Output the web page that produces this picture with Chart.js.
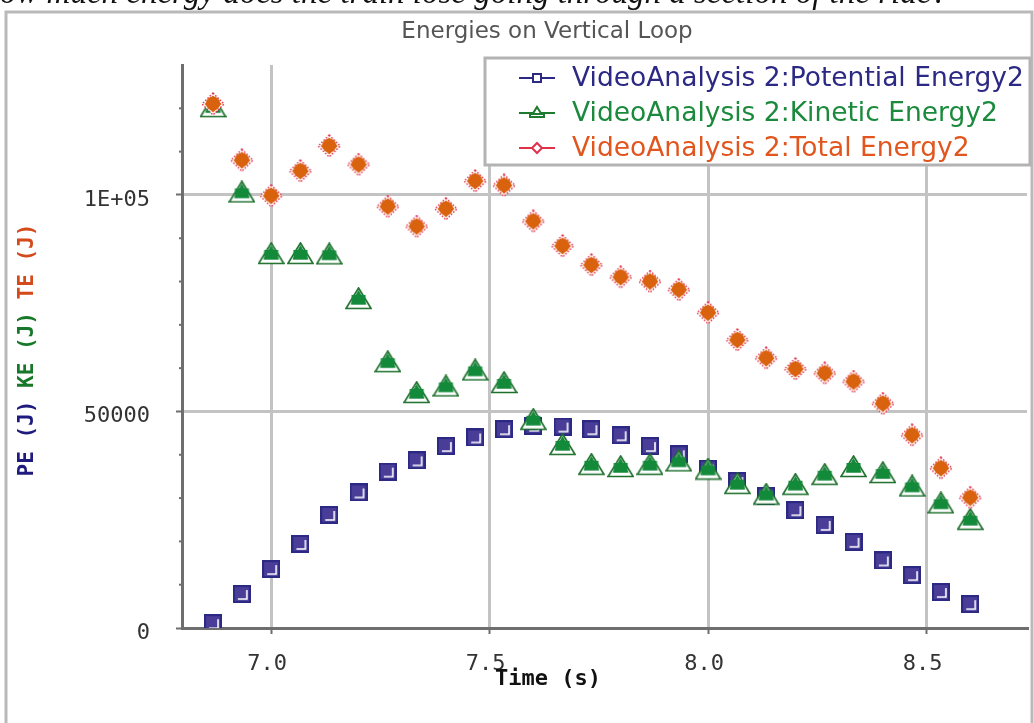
<!DOCTYPE html>
<html>
<head>
<meta charset="utf-8">
<script src="https://cdn.jsdelivr.net/npm/chart.js@4/dist/chart.umd.min.js"></script>
<style>
  body { margin: 0; background: #fff; overflow: hidden; width: 1034px; height: 723px; position: relative; }
  canvas { position: absolute; left: 0; top: 0; }
  #question { position: absolute; left: -24px; top: -26px; font: italic 33px "Liberation Serif"; white-space: nowrap; color: #111; }
</style>
</head>
<body>
<canvas id="myChart" width="1034" height="723"></canvas>
<div id="question">How much energy does the train lose going through a section of the ride?</div>
<script>
// time in seconds (15 frames per second)
const times = [6.867, 6.933, 7.0, 7.067, 7.133, 7.2, 7.267, 7.333, 7.4, 7.467, 7.533, 7.6, 7.667, 7.733,
  7.8, 7.867, 7.933, 8.0, 8.067, 8.133, 8.2, 8.267, 8.333, 8.4, 8.467, 8.533, 8.6];
const peValues = [1100, 7850, 13600, 19400, 26100, 31300, 36100, 38700, 42000, 44000, 45900, 46700, 46500, 45900,
  44500, 42000, 40100, 36800, 33900, 30500, 27200, 23800, 19900, 15600, 12200, 8300, 5500];
const keValues = [120400, 100700, 86500, 86500, 86400, 76100, 61500, 54400, 55900, 59600, 56700, 48200, 42400, 37800,
  37300, 37800, 38600, 36700, 33400, 30900, 33200, 35500, 37300, 35900, 32800, 28900, 25100];
const teValues = [121000, 108000, 99800, 105500, 111300, 107000, 97300, 92700, 96800, 103200, 102200, 93900, 88200, 83800,
  81000, 80000, 78100, 72800, 66500, 62300, 59800, 58800, 56900, 51800, 44500, 36900, 30100];
const seriesLabels = ['VideoAnalysis 2:Potential Energy2', 'VideoAnalysis 2:Kinetic Energy2', 'VideoAnalysis 2:Total Energy2'];
const xTicks = [7.0, 7.5, 8.0, 8.5];
const yTicks = [0, 50000, 100000];
const yTickLabels = ['0', '50000', '1E+05'];
const yMinorStep = 10000;

const navy = '#2b2984', green = '#13893a', orange = '#d9620e', red = '#e0304a';

function makeCanvas(w, h) {
  const c = document.createElement('canvas');
  c.width = w; c.height = h;
  return c;
}
// filled square with a white "shadow" L inside
function squareMarker() {
  const c = makeCanvas(18, 18), g = c.getContext('2d');
  g.fillStyle = navy; g.fillRect(0, 0, 18, 18);
  g.fillStyle = '#4a3d98'; g.fillRect(2, 2, 14, 14);
  g.strokeStyle = '#fff'; g.lineWidth = 1.6;
  g.beginPath(); g.moveTo(5, 14); g.lineTo(14, 14); g.lineTo(14, 5); g.stroke();
  return c;
}
function triangleMarker() {
  const c = makeCanvas(27, 23), g = c.getContext('2d');
  g.fillStyle = '#fff'; g.strokeStyle = '#1d6f2c'; g.lineWidth = 1.6;
  g.beginPath(); g.moveTo(13.5, 1); g.lineTo(26, 21.5); g.lineTo(1, 21.5); g.closePath(); g.fill(); g.stroke();
  g.fillStyle = green;
  g.beginPath(); g.moveTo(13.5, 3); g.lineTo(21.5, 17.5); g.lineTo(5.5, 17.5); g.closePath(); g.fill();
  g.fillRect(6.5, 8, 14, 9.5);
  return c;
}
function diamondMarker() {
  const c = makeCanvas(24, 24), g = c.getContext('2d');
  g.fillStyle = '#fff'; g.strokeStyle = red; g.lineWidth = 1.4; g.setLineDash([1.6, 1.6]);
  g.beginPath(); g.moveTo(12, 1); g.lineTo(23, 12); g.lineTo(12, 23); g.lineTo(1, 12); g.closePath(); g.fill(); g.stroke();
  g.setLineDash([]);
  g.fillStyle = orange;
  g.beginPath(); g.moveTo(12, 3.5); g.lineTo(20.5, 12); g.lineTo(12, 20.5); g.lineTo(3.5, 12); g.closePath(); g.fill();
  g.beginPath(); g.arc(12, 11.5, 7, 0, Math.PI * 2); g.fill();
  return c;
}

const toPoints = vals => vals.map((v, i) => ({ x: times[i], y: v }));

// frame, title, axis titles, minor ticks and the boxed legend
const decor = {
  id: 'decor',
  beforeDraw(chart) {
    const ctx = chart.ctx;
    ctx.save();
    ctx.fillStyle = '#fff';
    ctx.fillRect(0, 0, chart.width, chart.height);
    ctx.strokeStyle = '#b9b9b9'; ctx.lineWidth = 3;
    ctx.beginPath(); ctx.moveTo(6, 760); ctx.lineTo(6, 12); ctx.lineTo(1032, 12); ctx.lineTo(1032, 760); ctx.stroke();
    ctx.restore();
  },
  afterDraw(chart) {
    const { ctx, chartArea, scales } = chart;
    ctx.save();
    ctx.textBaseline = 'middle';
    ctx.textAlign = 'center';
    ctx.fillStyle = '#555';
    ctx.font = '23px "DejaVu Sans"';
    ctx.fillText('Energies on Vertical Loop', 547, 32);

    // minor ticks on y axis
    ctx.strokeStyle = '#6e6e6e'; ctx.lineWidth = 2;
    for (let v = yMinorStep; v < scales.y.max; v += yMinorStep) {
      if (yTicks.includes(v)) continue;
      const py = scales.y.getPixelForValue(v);
      ctx.beginPath(); ctx.moveTo(chartArea.left - 3, py); ctx.lineTo(chartArea.left, py); ctx.stroke();
    }

    // x title
    ctx.fillStyle = '#111';
    ctx.font = 'bold 22px "DejaVu Sans Mono"';
    ctx.fillText('Time (s)', 548, 679);

    // y title in three colours
    const parts = [['PE (J) ', '#1e1a7e'], ['KE (J) ', '#17782a'], ['TE (J)', '#d44a1a']];
    ctx.font = 'bold 21px "DejaVu Sans Mono"';
    const total = parts.reduce((s, p) => s + ctx.measureText(p[0]).width, 0);
    ctx.translate(28, 350);
    ctx.rotate(-Math.PI / 2);
    ctx.textAlign = 'left';
    let x = -total / 2;
    parts.forEach(p => {
      ctx.fillStyle = p[1];
      ctx.fillText(p[0], x, 0);
      x += ctx.measureText(p[0]).width;
    });
    ctx.setTransform(1, 0, 0, 1, 0, 0);

    // legend
    ctx.fillStyle = '#fff'; ctx.strokeStyle = '#b3b3b3'; ctx.lineWidth = 3;
    ctx.fillRect(485, 58, 545, 107);
    ctx.strokeRect(485, 58, 545, 107);
    const colors = [navy, '#1b8a3c', '#e0561e'];
    const lineCols = [navy, '#1d7a2e', red];
    ctx.font = '26.5px "DejaVu Sans"';
    ctx.textAlign = 'left';
    seriesLabels.forEach((lab, i) => {
      const ry = 78 + i * 35;
      ctx.strokeStyle = lineCols[i]; ctx.lineWidth = 2;
      ctx.beginPath(); ctx.moveTo(519, ry); ctx.lineTo(555, ry); ctx.stroke();
      ctx.fillStyle = '#fff';
      ctx.beginPath();
      if (i === 0) { ctx.rect(533, ry - 4, 8, 8); }
      else if (i === 1) { ctx.moveTo(537, ry - 6); ctx.lineTo(542, ry + 2); ctx.lineTo(532, ry + 2); ctx.closePath(); }
      else { ctx.moveTo(537, ry - 5); ctx.lineTo(542, ry); ctx.lineTo(537, ry + 5); ctx.lineTo(532, ry); ctx.closePath(); }
      ctx.fill(); ctx.stroke();
      if (i === 1) { ctx.fillStyle = '#fff'; ctx.fillRect(530, ry + 1, 14, 3); ctx.strokeRect(530, ry + 1, 14, 3); }
      ctx.fillStyle = colors[i];
      ctx.fillText(lab, 572, ry + 1);
    });
    ctx.restore();
  }
};

const ctx = document.getElementById('myChart').getContext('2d');
const tickFont = { family: '"DejaVu Sans Mono"', size: 22 };
new Chart(ctx, {
  type: 'scatter',
  data: {
    datasets: [
      { label: seriesLabels[0], data: toPoints(peValues), pointStyle: squareMarker(), order: 3 },
      { label: seriesLabels[1], data: toPoints(keValues), pointStyle: triangleMarker(), order: 2 },
      { label: seriesLabels[2], data: toPoints(teValues), pointStyle: diamondMarker(), order: 1 }
    ]
  },
  options: {
    responsive: false,
    animation: false,
    layout: { padding: { left: 0, right: 7, top: 65, bottom: 0 } },
    plugins: { legend: { display: false }, tooltip: { enabled: false }, title: { display: false } },
    scales: {
      x: {
        type: 'linear', min: 6.796, max: 8.73,
        afterBuildTicks: s => { s.ticks = xTicks.map(v => ({ value: v })); },
        afterFit: s => { s.height = 95; },
        grid: { color: '#c3c3c3', lineWidth: 3, tickLength: 6, tickColor: '#6e6e6e', tickWidth: 2 },
        border: { color: '#6e6e6e', width: 3 },
        ticks: { font: tickFont, color: '#333', padding: 17, labelOffset: -4, maxRotation: 0,
          callback: v => v.toFixed(1) }
      },
      y: {
        min: 0, max: 130000,
        afterBuildTicks: s => { s.ticks = yTicks.map(v => ({ value: v })); },
        afterFit: s => { s.width = 182; },
        grid: { color: '#c3c3c3', lineWidth: 3, tickLength: 6, tickColor: '#6e6e6e', tickWidth: 2 },
        border: { color: '#6e6e6e', width: 3 },
        ticks: { font: tickFont, color: '#333', padding: 26, labelOffset: 5,
          callback: v => yTickLabels[yTicks.indexOf(v)] }
      }
    }
  },
  plugins: [decor]
});
</script>
</body>
</html>
